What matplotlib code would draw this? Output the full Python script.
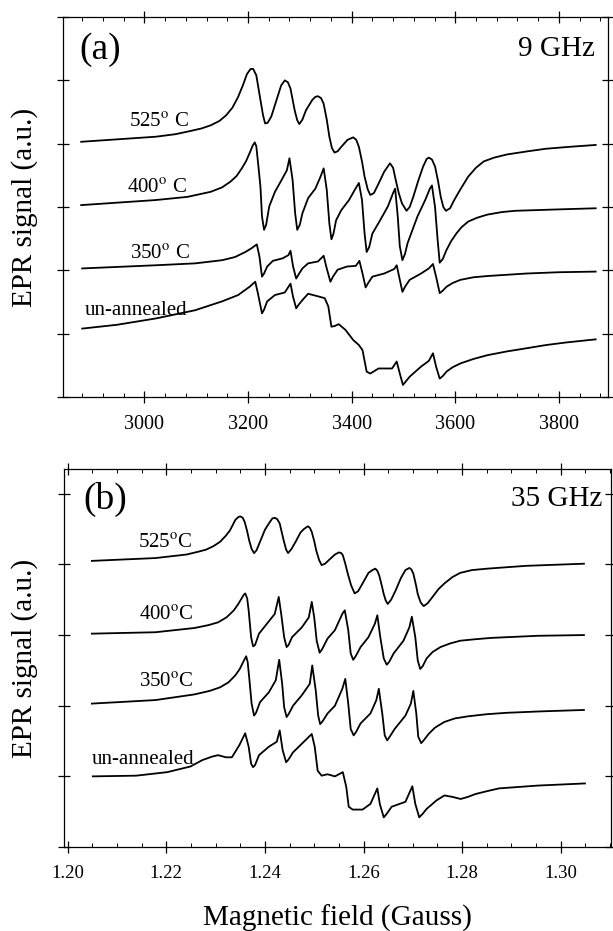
import matplotlib
matplotlib.use("Agg")
import matplotlib.pyplot as plt
from matplotlib.ticker import MultipleLocator

plt.rcParams['font.family'] = ['Liberation Serif', 'DejaVu Serif']
plt.rcParams['mathtext.fontset'] = 'stix'

# panel (a), 9 GHz, field in Gauss
field_a_525 = [2878, 2950, 3022, 3060, 3083, 3110, 3128, 3145, 3158, 3170, 3181, 3190, 3198, 3205, 3210,
               3216, 3224, 3229, 3233, 3238, 3245, 3257, 3264, 3271, 3277, 3282, 3290, 3295, 3299, 3305,
               3312, 3324, 3330, 3335, 3341, 3346, 3352, 3357, 3362, 3367, 3373, 3380, 3392, 3403, 3409,
               3414, 3420, 3425, 3431, 3436, 3443, 3452, 3463, 3474, 3480, 3485, 3491, 3497, 3506, 3512,
               3519, 3528, 3538, 3545, 3549, 3555, 3561, 3567, 3572, 3577, 3582, 3590, 3598, 3610, 3625,
               3640, 3655, 3675, 3700, 3740, 3775, 3820, 3871]
signal_a_525 = [4.03, 4.07, 4.11, 4.15, 4.19, 4.24, 4.29, 4.36, 4.45, 4.57, 4.74, 4.92, 5.10, 5.18, 5.18,
                5.08, 4.69, 4.45, 4.32, 4.33, 4.43, 4.74, 4.92, 5.00, 4.97, 4.87, 4.53, 4.37, 4.31, 4.38,
                4.53, 4.69, 4.74, 4.75, 4.72, 4.63, 4.38, 4.11, 3.93, 3.86, 3.88, 3.95, 4.06, 4.10, 4.06,
                3.95, 3.72, 3.48, 3.28, 3.19, 3.22, 3.37, 3.56, 3.69, 3.62, 3.43, 3.22, 3.06, 2.94, 3.00,
                3.16, 3.40, 3.64, 3.76, 3.78, 3.75, 3.64, 3.40, 3.16, 3.00, 2.94, 2.98, 3.11, 3.28, 3.48,
                3.62, 3.72, 3.78, 3.83, 3.88, 3.92, 3.95, 3.98]

field_a_400 = [2878, 3022, 3083, 3128, 3150, 3166, 3178, 3188, 3196, 3203, 3209, 3213, 3216, 3220, 3224,
               3227, 3231, 3235, 3241, 3252, 3263, 3275, 3280, 3286, 3291, 3295, 3300, 3305, 3316, 3330,
               3340, 3346, 3352, 3357, 3361, 3365, 3370, 3380, 3395, 3406, 3414, 3420, 3425, 3429, 3434,
               3440, 3455, 3470, 3480, 3484, 3489, 3493, 3498, 3503, 3508, 3527, 3542, 3551, 3555, 3561,
               3566, 3570, 3576, 3583, 3592, 3602, 3612, 3625, 3642, 3662, 3690, 3715, 3790, 3871]
signal_a_400 = [3.03, 3.11, 3.16, 3.24, 3.31, 3.40, 3.49, 3.61, 3.72, 3.85, 3.97, 4.02, 3.96, 3.65, 3.32,
                2.85, 2.64, 2.72, 3.01, 3.24, 3.40, 3.58, 3.77, 3.43, 2.90, 2.64, 2.72, 2.90, 3.14, 3.29,
                3.48, 3.61, 3.27, 2.74, 2.49, 2.58, 2.79, 2.95, 3.11, 3.27, 3.38, 3.11, 2.58, 2.29, 2.37,
                2.58, 2.79, 3.01, 3.22, 3.29, 2.85, 2.38, 2.16, 2.26, 2.43, 2.85, 3.11, 3.29, 3.34, 3.00,
                2.48, 2.12, 2.18, 2.32, 2.46, 2.58, 2.68, 2.77, 2.83, 2.88, 2.92, 2.94, 2.96, 2.98]

field_a_350 = [2880, 3022, 3098, 3150, 3175, 3195, 3207, 3217, 3222, 3227, 3231, 3237, 3248, 3267, 3278,
               3282, 3287, 3293, 3298, 3305, 3316, 3335, 3346, 3351, 3359, 3364, 3373, 3391, 3408, 3415,
               3421, 3427, 3432, 3440, 3463, 3482, 3487, 3493, 3498, 3503, 3512, 3534, 3549, 3557, 3563,
               3570, 3576, 3583, 3595, 3610, 3635, 3662, 3700, 3738, 3800, 3871]
signal_a_350 = [2.03, 2.08, 2.11, 2.16, 2.21, 2.29, 2.35, 2.41, 2.22, 1.90, 1.95, 2.06, 2.15, 2.19, 2.24,
                2.31, 2.06, 1.87, 1.94, 2.03, 2.11, 2.14, 2.23, 2.06, 1.82, 1.90, 2.01, 2.06, 2.07, 2.15,
                1.95, 1.73, 1.80, 1.90, 1.95, 2.02, 2.08, 1.85, 1.66, 1.74, 1.85, 1.95, 2.03, 2.10, 1.90,
                1.64, 1.68, 1.74, 1.80, 1.85, 1.89, 1.91, 1.93, 1.95, 1.97, 1.98]

field_a_un = [2880, 2947, 3022, 3098, 3150, 3181, 3203, 3214, 3219, 3227, 3231, 3237, 3252, 3271, 3282,
              3287, 3293, 3298, 3305, 3316, 3335, 3348, 3355, 3361, 3367, 3375, 3388, 3403, 3414, 3421,
              3429, 3436, 3452, 3478, 3487, 3493, 3499, 3504, 3512, 3534, 3549, 3557, 3563, 3570, 3576,
              3583, 3595, 3610, 3635, 3662, 3700, 3738, 3775, 3813, 3871]
signal_a_un = [1.08, 1.14, 1.24, 1.37, 1.51, 1.61, 1.74, 1.82, 1.64, 1.32, 1.38, 1.51, 1.61, 1.65, 1.79,
               1.58, 1.40, 1.46, 1.53, 1.63, 1.59, 1.56, 1.43, 1.11, 1.12, 1.15, 1.06, 0.90, 0.82, 0.74,
               0.40, 0.37, 0.45, 0.45, 0.56, 0.37, 0.19, 0.24, 0.32, 0.48, 0.57, 0.69, 0.48, 0.29, 0.33,
               0.40, 0.47, 0.53, 0.60, 0.66, 0.72, 0.77, 0.82, 0.86, 0.91]

# panel (b), 35 GHz
field_b_525 = [1.2049, 1.2178, 1.2241, 1.2265, 1.2281, 1.2296, 1.2309, 1.2320, 1.2329, 1.2340, 1.2346,
               1.2350, 1.2355, 1.2359, 1.2364, 1.2368, 1.2373, 1.2378, 1.2383, 1.2390, 1.2400, 1.2408,
               1.2415, 1.2420, 1.2425, 1.2430, 1.2434, 1.2438, 1.2443, 1.2447, 1.2454, 1.2463, 1.2472,
               1.2479, 1.2487, 1.2491, 1.2495, 1.2500, 1.2504, 1.2510, 1.2515, 1.2522, 1.2531, 1.2542,
               1.2550, 1.2555, 1.2558, 1.2563, 1.2568, 1.2575, 1.2582, 1.2589, 1.2598, 1.2610, 1.2618,
               1.2624, 1.2628, 1.2632, 1.2637, 1.2641, 1.2645, 1.2649, 1.2656, 1.2665, 1.2676, 1.2685,
               1.2693, 1.2697, 1.2701, 1.2706, 1.2710, 1.2716, 1.2722, 1.2730, 1.2740, 1.2752, 1.2764,
               1.2780, 1.2796, 1.2820, 1.2851, 1.2890, 1.2930, 1.3047]
signal_b_525 = [4.05, 4.09, 4.14, 4.18, 4.21, 4.26, 4.32, 4.40, 4.48, 4.63, 4.67, 4.68, 4.66, 4.60, 4.47,
                4.34, 4.22, 4.16, 4.20, 4.32, 4.49, 4.58, 4.65, 4.66, 4.64, 4.58, 4.46, 4.34, 4.21, 4.16,
                4.22, 4.33, 4.45, 4.50, 4.54, 4.52, 4.46, 4.33, 4.20, 4.06, 3.99, 4.01, 4.07, 4.14, 4.17,
                4.16, 4.13, 4.01, 3.87, 3.70, 3.59, 3.62, 3.73, 3.88, 3.92, 3.94, 3.91, 3.84, 3.70, 3.58,
                3.49, 3.44, 3.50, 3.63, 3.81, 3.92, 3.95, 3.93, 3.87, 3.72, 3.58, 3.46, 3.41, 3.45, 3.54,
                3.65, 3.73, 3.82, 3.88, 3.92, 3.94, 3.96, 3.98, 4.01]

field_b_400 = [1.2049, 1.2178, 1.2257, 1.2285, 1.2305, 1.2322, 1.2337, 1.2346, 1.2352, 1.2357, 1.2360,
               1.2364, 1.2367, 1.2372, 1.2376, 1.2380, 1.2388, 1.2404, 1.2420, 1.2428, 1.2433, 1.2439,
               1.2444, 1.2448, 1.2455, 1.2475, 1.2489, 1.2495, 1.2500, 1.2505, 1.2511, 1.2516, 1.2527,
               1.2542, 1.2557, 1.2562, 1.2569, 1.2574, 1.2579, 1.2584, 1.2594, 1.2610, 1.2623, 1.2628,
               1.2634, 1.2641, 1.2647, 1.2652, 1.2661, 1.2681, 1.2693, 1.2698, 1.2705, 1.2710, 1.2715,
               1.2720, 1.2728, 1.2740, 1.2756, 1.2775, 1.2796, 1.2825, 1.2859, 1.2954, 1.3047]
signal_b_400 = [3.02, 3.04, 3.10, 3.14, 3.18, 3.25, 3.35, 3.44, 3.51, 3.57, 3.59, 3.52, 3.35, 2.97, 2.84,
                2.86, 3.02, 3.16, 3.30, 3.54, 3.30, 2.97, 2.83, 2.86, 2.97, 3.11, 3.25, 3.47, 3.25, 2.92,
                2.75, 2.80, 2.95, 3.07, 3.30, 3.35, 3.07, 2.74, 2.65, 2.70, 2.83, 2.97, 3.16, 3.28, 2.97,
                2.67, 2.58, 2.62, 2.74, 2.92, 3.11, 3.26, 2.97, 2.64, 2.52, 2.56, 2.67, 2.76, 2.83, 2.88,
                2.92, 2.94, 2.96, 2.99, 3.00]

field_b_350 = [1.2049, 1.2178, 1.2257, 1.2288, 1.2309, 1.2326, 1.2340, 1.2349, 1.2356, 1.2362, 1.2365,
               1.2368, 1.2373, 1.2378, 1.2382, 1.2390, 1.2408, 1.2422, 1.2429, 1.2435, 1.2439, 1.2444,
               1.2448, 1.2457, 1.2475, 1.2491, 1.2496, 1.2503, 1.2508, 1.2512, 1.2517, 1.2527, 1.2542,
               1.2557, 1.2563, 1.2569, 1.2574, 1.2580, 1.2585, 1.2594, 1.2614, 1.2626, 1.2631, 1.2638,
               1.2643, 1.2648, 1.2653, 1.2663, 1.2685, 1.2696, 1.2701, 1.2707, 1.2711, 1.2717, 1.2722,
               1.2732, 1.2745, 1.2764, 1.2785, 1.2812, 1.2850, 1.2891, 1.2960, 1.3047]
signal_b_350 = [2.03, 2.08, 2.16, 2.21, 2.26, 2.33, 2.43, 2.52, 2.62, 2.70, 2.62, 2.41, 2.03, 1.86, 1.90,
                2.05, 2.19, 2.36, 2.65, 2.31, 1.98, 1.84, 1.88, 2.00, 2.15, 2.31, 2.57, 2.22, 1.86, 1.74,
                1.78, 1.89, 2.00, 2.24, 2.38, 2.03, 1.67, 1.58, 1.63, 1.75, 1.89, 2.08, 2.24, 1.89, 1.58,
                1.51, 1.56, 1.67, 1.86, 2.03, 2.21, 1.89, 1.56, 1.47, 1.51, 1.60, 1.69, 1.77, 1.82, 1.85,
                1.88, 1.90, 1.92, 1.94]

field_b_un = [1.2051, 1.2139, 1.2202, 1.2249, 1.2273, 1.2293, 1.2305, 1.2321, 1.2333, 1.2348, 1.2360,
              1.2367, 1.2372, 1.2376, 1.2380, 1.2388, 1.2408, 1.2424, 1.2430, 1.2436, 1.2443, 1.2448,
              1.2457, 1.2479, 1.2495, 1.2501, 1.2507, 1.2515, 1.2527, 1.2542, 1.2558, 1.2565, 1.2570,
              1.2578, 1.2598, 1.2614, 1.2628, 1.2633, 1.2641, 1.2647, 1.2657, 1.2685, 1.2699, 1.2705,
              1.2713, 1.2720, 1.2728, 1.2748, 1.2764, 1.2780, 1.2797, 1.2812, 1.2827, 1.2850, 1.2875,
              1.2954, 1.3049]
signal_b_un = [1.00, 1.01, 1.06, 1.14, 1.23, 1.28, 1.30, 1.27, 1.27, 1.44, 1.61, 1.42, 1.18, 1.13, 1.16,
               1.30, 1.42, 1.49, 1.65, 1.37, 1.20, 1.24, 1.34, 1.49, 1.60, 1.42, 1.08, 1.01, 1.03, 1.00,
               1.06, 0.85, 0.57, 0.53, 0.53, 0.61, 0.83, 0.61, 0.42, 0.47, 0.57, 0.64, 0.86, 0.61, 0.42,
               0.47, 0.54, 0.66, 0.73, 0.71, 0.68, 0.71, 0.75, 0.79, 0.83, 0.87, 0.90]

labels_a = ['525$^{\\mathrm{o}}$ C', '400$^{\\mathrm{o}}$ C', '350$^{\\mathrm{o}}$ C', 'un-annealed']
labels_b = ['525$^{\\mathrm{o}}$C', '400$^{\\mathrm{o}}$C', '350$^{\\mathrm{o}}$C', 'un-annealed']

fig = plt.figure(figsize=(6.13, 9.31), dpi=100)
ax1 = fig.add_axes([0.102, 0.5736, 0.890, 0.4081])
ax2 = fig.add_axes([0.104, 0.0902, 0.892, 0.4060])

for fx, sy in [(field_a_525, signal_a_525), (field_a_400, signal_a_400),
               (field_a_350, signal_a_350), (field_a_un, signal_a_un)]:
    ax1.plot(fx, sy, color='black', lw=1.3, solid_joinstyle='round')
for fx, sy in [(field_b_525, signal_b_525), (field_b_400, signal_b_400),
               (field_b_350, signal_b_350), (field_b_un, signal_b_un)]:
    ax2.plot(fx, sy, color='black', lw=1.3, solid_joinstyle='round')

ax1.set_xlim(2842, 3895)
ax1.set_ylim(0, 6.0)
ax2.set_xlim(1.1992, 1.3101)
ax2.set_ylim(0, 5.35)

ax1.xaxis.set_major_locator(MultipleLocator(200))
ax1.xaxis.set_minor_locator(MultipleLocator(40))
ax2.xaxis.set_major_locator(MultipleLocator(0.02))
ax2.xaxis.set_minor_locator(MultipleLocator(0.005))
for ax in (ax1, ax2):
    ax.yaxis.set_major_locator(MultipleLocator(1))
    ax.tick_params(axis='y', labelleft=False)
    ax.tick_params(which='major', direction='inout', length=8, width=0.9,
                   top=True, right=True, labelsize=14.5, pad=9)
    ax.tick_params(which='minor', direction='in', length=3, width=0.7, top=True)
    for s in ax.spines.values():
        s.set_linewidth(0.9)
    ax.set_ylabel('EPR signal (a.u.)', fontsize=21)

ax1.yaxis.set_label_coords(-0.045, 0.5)
ax2.yaxis.set_label_coords(-0.047, 0.5)

ax1.set_xticks([3000, 3200, 3400, 3600, 3800])
ax1.set_xticklabels(['3000', '3200', '3400', '3600', '3800'])
ax2.set_xticks([1.20, 1.22, 1.24, 1.26, 1.28, 1.30])
ax2.set_xticklabels(['1.20', '1.22', '1.24', '1.26', '1.28', '1.30'], fontsize=13.5)
ax2.set_xlabel('Magnetic field (Gauss)', fontsize=21, labelpad=16)

ax1.text(0.03, 0.915, '(a)', transform=ax1.transAxes, fontsize=27, va='center', ha='left')
ax1.text(0.975, 0.915, '9 GHz', transform=ax1.transAxes, fontsize=21, va='center', ha='right')
ax2.text(0.035, 0.92, '(b)', transform=ax2.transAxes, fontsize=27, va='center', ha='left')
ax2.text(0.985, 0.92, '35 GHz', transform=ax2.transAxes, fontsize=21, va='center', ha='right')

label_pos_a = [(2970, 4.27), (2966, 3.22), (2972, 2.18), (2884, 1.30)]
label_pos_b = [(1.2143, 4.23), (1.2145, 3.21), (1.2145, 2.26), (1.2049, 1.17)]
for txt, (px, py) in zip(labels_a, label_pos_a):
    ax1.text(px, py, txt, fontsize=15, va='baseline', ha='left')
for txt, (px, py) in zip(labels_b, label_pos_b):
    ax2.text(px, py, txt, fontsize=15, va='baseline', ha='left')

fig.savefig('out.png', dpi=100)
